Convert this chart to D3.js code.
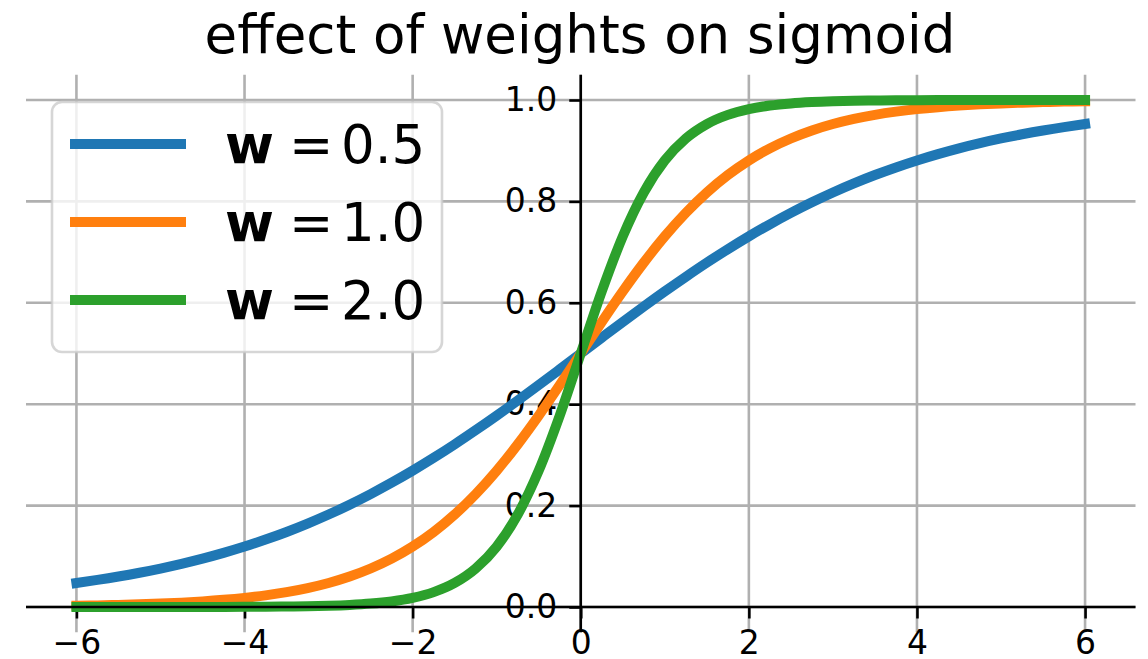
<!DOCTYPE html>
<html>
<head>
<meta charset="utf-8">
<script src="https://cdn.jsdelivr.net/npm/d3@7"></script>
<style>
  html, body { margin: 0; padding: 0; background: #ffffff; }
  svg { display: block; }
  text { font-family: "DejaVu Sans", sans-serif; fill: #000; }
</style>
</head>
<body>
<svg id="chart" width="1148" height="659"></svg>
<script>
// ---- data ----
const title = "effect of weights on sigmoid";
const xValues = [-6, -5.75, -5.5, -5.25, -5, -4.75, -4.5, -4.25, -4, -3.75, -3.5, -3.25,
                 -3, -2.75, -2.5, -2.25, -2, -1.75, -1.5, -1.25, -1, -0.75, -0.5, -0.25,
                 0,
                 0.25, 0.5, 0.75, 1, 1.25, 1.5, 1.75, 2, 2.25, 2.5, 2.75, 3,
                 3.25, 3.5, 3.75, 4, 4.25, 4.5, 4.75, 5, 5.25, 5.5, 5.75, 6];
const seriesW05 = [0.0474, 0.0534, 0.0601, 0.0676, 0.0759, 0.0851, 0.0953, 0.1067, 0.1192, 0.1330, 0.1480, 0.1645,
                   0.1824, 0.2018, 0.2227, 0.2451, 0.2689, 0.2942, 0.3208, 0.3487, 0.3775, 0.4073, 0.4378, 0.4688,
                   0.5,
                   0.5312, 0.5622, 0.5927, 0.6225, 0.6513, 0.6792, 0.7058, 0.7311, 0.7549, 0.7773, 0.7982, 0.8176,
                   0.8355, 0.8520, 0.8670, 0.8808, 0.8933, 0.9047, 0.9149, 0.9241, 0.9324, 0.9399, 0.9466, 0.9526];
const seriesW10 = [0.0025, 0.0032, 0.0041, 0.0052, 0.0067, 0.0086, 0.0110, 0.0141, 0.0180, 0.0230, 0.0293, 0.0373,
                   0.0474, 0.0601, 0.0759, 0.0953, 0.1192, 0.1480, 0.1824, 0.2227, 0.2689, 0.3208, 0.3775, 0.4378,
                   0.5,
                   0.5622, 0.6225, 0.6792, 0.7311, 0.7773, 0.8176, 0.8520, 0.8808, 0.9047, 0.9241, 0.9399, 0.9526,
                   0.9627, 0.9707, 0.9770, 0.9820, 0.9859, 0.9890, 0.9914, 0.9933, 0.9948, 0.9959, 0.9968, 0.9975];
const seriesW20 = [0.0000, 0.0000, 0.0000, 0.0000, 0.0000, 0.0001, 0.0001, 0.0002, 0.0003, 0.0006, 0.0009, 0.0015,
                   0.0025, 0.0041, 0.0067, 0.0110, 0.0180, 0.0293, 0.0474, 0.0759, 0.1192, 0.1824, 0.2689, 0.3775,
                   0.5,
                   0.6225, 0.7311, 0.8176, 0.8808, 0.9241, 0.9526, 0.9707, 0.9820, 0.9890, 0.9933, 0.9959, 0.9975,
                   0.9985, 0.9991, 0.9994, 0.9997, 0.9998, 0.9999, 0.9999, 1.0000, 1.0000, 1.0000, 1.0000, 1.0000];
const seriesNames = ["0.5", "1.0", "2.0"];
const seriesColors = ["#1f77b4", "#ff7f0e", "#2ca02c"];
const xTicks = [-6, -4, -2, 0, 2, 4, 6];
const yTicks = [0.0, 0.2, 0.4, 0.6, 0.8, 1.0];

// ---- layout ----
const svg = d3.select("#chart");
const W = 1148, H = 659;
svg.append("rect").attr("width", W).attr("height", H).attr("fill", "#fff");

const x = d3.scaleLinear().domain([-6.6, 6.6]).range([26, 1135.5]);
const y = d3.scaleLinear().domain([-0.05, 1.05]).range([632.35, 74.65]);

const tickFont = 33, lw = 2.6, tickLen = 11.5, tickPad = 12;

// grid
const grid = svg.append("g").attr("stroke", "#b0b0b0").attr("stroke-width", lw);
grid.selectAll("line.gx").data(xTicks).join("line").attr("class", "gx")
  .attr("x1", d => x(d)).attr("x2", d => x(d))
  .attr("y1", y.range()[1]).attr("y2", y.range()[0]);
grid.selectAll("line.gy").data(yTicks).join("line").attr("class", "gy")
  .attr("y1", d => y(d)).attr("y2", d => y(d))
  .attr("x1", x.range()[0]).attr("x2", x.range()[1]);

// axes (ticks + labels), spines positioned at zero
const xAxis = svg.append("g").attr("transform", `translate(0,${y(0)})`)
  .call(d3.axisBottom(x).tickValues(xTicks).tickSize(tickLen).tickPadding(tickPad)
        .tickFormat(d3.format("d")));
const yAxis = svg.append("g").attr("transform", `translate(${x(0)},0)`)
  .call(d3.axisLeft(y).tickValues(yTicks).tickSize(tickLen).tickPadding(tickPad)
        .tickFormat(d3.format(".1f")));
[xAxis, yAxis].forEach(g => {
  g.select(".domain").remove();
  g.selectAll(".tick line").attr("stroke", "#000").attr("stroke-width", lw);
  g.selectAll(".tick text").attr("font-size", tickFont)
    .attr("font-family", "DejaVu Sans, sans-serif").attr("fill", "#000");
});

// curves
const series = [seriesW05, seriesW10, seriesW20];
const line = d3.line().x(d => x(d[0])).y(d => y(d[1])).curve(d3.curveMonotoneX);
svg.append("g").selectAll("path").data(series).join("path")
  .attr("d", s => line(xValues.map((v, i) => [v, s[i]])))
  .attr("fill", "none")
  .attr("stroke", (s, i) => seriesColors[i])
  .attr("stroke-width", 10)
  .attr("stroke-linecap", "square")
  .attr("stroke-linejoin", "round");

// spines (at zero)
const spines = svg.append("g").attr("stroke", "#000").attr("stroke-width", lw);
spines.append("line").attr("x1", x.range()[0]).attr("x2", x.range()[1])
  .attr("y1", y(0)).attr("y2", y(0));
spines.append("line").attr("x1", x(0)).attr("x2", x(0))
  .attr("y1", y.range()[1]).attr("y2", y.range()[0]);

// legend
const leg = svg.append("g");
leg.append("rect").attr("x", 52).attr("y", 102).attr("width", 390).attr("height", 250)
  .attr("rx", 10).attr("ry", 10)
  .attr("fill", "#fff").attr("fill-opacity", 0.8)
  .attr("stroke", "#cccccc").attr("stroke-opacity", 0.8).attr("stroke-width", lw);
const legFont = 53;
seriesNames.forEach((name, i) => {
  const cy = 144 + i * 78;
  leg.append("line").attr("x1", 70).attr("x2", 186).attr("y1", cy).attr("y2", cy)
    .attr("stroke", seriesColors[i]).attr("stroke-width", 10);
  const base = cy + 19;
  leg.append("text").attr("x", 225).attr("y", base).attr("font-size", legFont)
    .attr("font-weight", "bold").text("w");
  leg.append("text").attr("x", 289).attr("y", base).attr("font-size", legFont).text("=");
  leg.append("text").attr("x", 341).attr("y", base).attr("font-size", legFont).text(name);
});

// title
svg.append("text").attr("x", 580).attr("y", 53).attr("text-anchor", "middle")
  .attr("font-size", 53).text(title);
</script>
</body>
</html>
